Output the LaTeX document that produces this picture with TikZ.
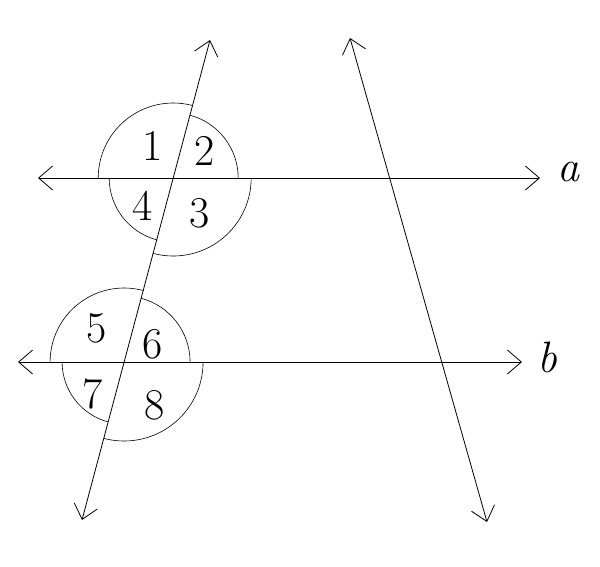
\documentclass[tikz,border=0pt]{standalone}
\usetikzlibrary{arrows.meta}
\begin{document}
\begin{tikzpicture}[x=1pt,y=-1pt,
    line/.style={draw,line width=0.8pt,{Straight Barb[length=14pt,width=24pt,line width=0.8pt]}-{Straight Barb[length=14pt,width=24pt,line width=0.8pt]}},
    arc line/.style={draw,line width=0.6pt},
    num/.style={font=\fontsize{44}{44}\selectfont,inner sep=0pt}]
  \useasboundingbox (0,0) rectangle (600,566);

  % end points of the four lines
  \coordinate (a1) at (38,178);  \coordinate (a2) at (540,178);
  \coordinate (b1) at (18,362);  \coordinate (b2) at (522,362);
  \coordinate (t1) at (210,40);  \coordinate (t2) at (82,520);
  \coordinate (s1) at (350,38);  \coordinate (s2) at (487,522);
  \coordinate (P) at (173.2,178);
  \coordinate (Q) at (124.1,362);

  \path[line] (a1) -- (a2);
  \path[line] (b1) -- (b2);
  \path[line] (t1) -- (t2);
  \path[line] (s1) -- (s2);

  \node[font=\fontsize{44}{44}\selectfont\itshape] (la) at (568,172) {a};
  \node[font=\fontsize{44}{44}\selectfont\itshape] (lb) at (547,357) {b};

  % angle arcs
  \draw[arc line] ([shift={(180:75)}]P) arc[start angle=-180,end angle=-75,radius=75];
  \draw[arc line] ([shift={(-75:65)}]P) arc[start angle=-75,end angle=0,radius=65];
  \draw[arc line] ([shift={(0:78)}]P) arc[start angle=0,end angle=105,radius=78];
  \draw[arc line] ([shift={(105:64)}]P) arc[start angle=105,end angle=180,radius=64];

  \draw[arc line] ([shift={(180:74)}]Q) arc[start angle=-180,end angle=-75,radius=74];
  \draw[arc line] ([shift={(-75:66)}]Q) arc[start angle=-75,end angle=0,radius=66];
  \draw[arc line] ([shift={(0:79)}]Q) arc[start angle=0,end angle=105,radius=79];
  \draw[arc line] ([shift={(105:62)}]Q) arc[start angle=105,end angle=180,radius=62];

  \node[num] (n1) at (153,146) {1};
  \node[num] (n2) at (205,151) {2};
  \node[num] (n4) at (143,206) {4};
  \node[num] (n3) at (200,213) {3};
  \node[num] (n5) at (97,328) {5};
  \node[num] (n6) at (153,344) {6};
  \node[num] (n7) at (93,394) {7};
  \node[num] (n8) at (155,405) {8};
\end{tikzpicture}
\end{document}
